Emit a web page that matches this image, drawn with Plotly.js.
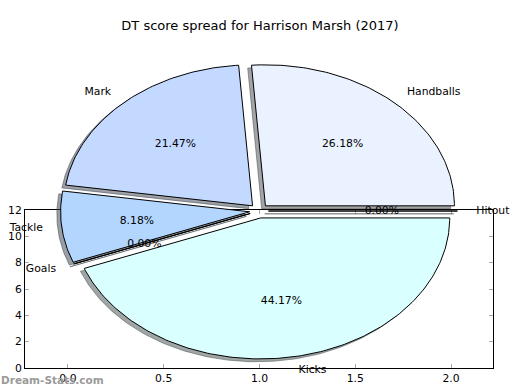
<!DOCTYPE html>
<html>
<head>
<meta charset="utf-8">
<script src="https://cdn.plot.ly/plotly-3.0.1.min.js"></script>
<style>html,body{margin:0;padding:0;background:#fff}#chart{width:520px;height:390px}</style>
</head>
<body>
<div id="chart"></div>
<script>
// ---- data ----
const labels = ['Handballs', 'Mark', 'Tackle', 'Goals', 'Kicks', 'Hitout'];
const values = [128, 105, 40, 0, 216, 0];
const xTickVals = [0, 0.5, 1, 1.5, 2];
const xTickText = ['0.0', '0.5', '1.0', '1.5', '2.0'];
const yTickVals = [0, 2, 4, 6, 8, 10, 12];
const titleText = 'DT score spread for Harrison Marsh (2017)';
const watermark = 'Dream-Stats.com';

// ---- style ----
const colors = [[234, 242, 255], [196, 217, 255], [179, 214, 255], [200, 230, 255], [217, 255, 255], [225, 240, 255]];
const FONT = 'DejaVu Sans, sans-serif';
const explode = 0.05, shadowOff = -0.02, labelDist = 1.1, pctDist = 0.6;

const total = values.reduce((a, b) => a + b, 0);
const shadows = [], wedges = [];
const lab = {x: [], y: [], text: [], pos: []};
const pct = {x: [], y: [], text: []};
let theta = 0;
values.forEach((v, i) => {
  const t1 = theta, t2 = theta + 360 * v / total;
  theta = t2;
  const tm = (t1 + t2) / 2 * Math.PI / 180;
  const cx = explode * Math.cos(tm), cy = explode * Math.sin(tm);
  const xs = [cx], ys = [cy];
  const n = Math.max(1, Math.ceil(t2 - t1));
  for (let k = 0; k <= n; k++) {
    const a = (t1 + (t2 - t1) * k / n) * Math.PI / 180;
    xs.push(cx + Math.cos(a)); ys.push(cy + Math.sin(a));
  }
  xs.push(cx); ys.push(cy);
  const c = colors[i];
  const sc = 'rgba(' + c.map(u => Math.round(u * 0.3)).join(',') + ',0.5)';
  shadows.push({type: 'scatter', mode: 'lines', x: xs.map(u => u + shadowOff), y: ys.map(u => u + shadowOff),
    fill: 'toself', fillcolor: sc, line: {color: sc, width: 1}, xaxis: 'x2', yaxis: 'y2', hoverinfo: 'skip'});
  wedges.push({type: 'scatter', mode: 'lines', x: xs, y: ys, fill: 'toself',
    fillcolor: 'rgb(' + c.join(',') + ')', line: {color: '#000', width: 1}, xaxis: 'x2', yaxis: 'y2', hoverinfo: 'skip'});
  const lx = cx + labelDist * Math.cos(tm), ly = cy + labelDist * Math.sin(tm);
  lab.x.push(lx); lab.y.push(ly); lab.text.push(labels[i]);
  lab.pos.push(lx > 0 ? 'middle right' : 'middle left');
  pct.x.push(cx + pctDist * Math.cos(tm)); pct.y.push(cy + pctDist * Math.sin(tm));
  pct.text.push((100 * v / total).toFixed(2) + '%');
});

const textFont = {family: FONT, size: 10.8, color: '#000'};
const traces = [
  {type: 'scatter', mode: 'markers', x: [], y: [], xaxis: 'x', yaxis: 'y', hoverinfo: 'skip'}
].concat(shadows, wedges, [
  {type: 'scatter', mode: 'text', x: lab.x, y: lab.y, text: lab.text, textposition: lab.pos,
    textfont: textFont, cliponaxis: false, hoverinfo: 'skip', xaxis: 'x3', yaxis: 'y3'},
  {type: 'scatter', mode: 'text', x: pct.x, y: pct.y, text: pct.text, textposition: 'middle center',
    textfont: textFont, cliponaxis: false, hoverinfo: 'skip', xaxis: 'x3', yaxis: 'y3'}
]);

// pie space: unit ellipse centred at pixel (259,211), rx=189 px, ry=141 px
const pxr = [-259 / 189, 261 / 189], pyr = [-179 / 141, 211 / 141];
const hidden = {visible: false, fixedrange: true, domain: [0, 1]};
const layout = {
  width: 520, height: 390,
  margin: {l: 0, r: 0, t: 0, b: 0},
  paper_bgcolor: '#fff', plot_bgcolor: 'rgba(0,0,0,0)',
  showlegend: false,
  font: {family: FONT, size: 10.8, color: '#000'},
  title: {text: titleText, x: 0.5, xanchor: 'center', y: 1 - 25 / 390, yanchor: 'middle',
    font: {family: FONT, size: 13, color: '#000'}},
  xaxis2: Object.assign({}, hidden, {range: pxr, anchor: 'y2'}),
  yaxis2: Object.assign({}, hidden, {range: pyr, anchor: 'x2'}),
  xaxis3: Object.assign({}, hidden, {range: pxr, anchor: 'y3'}),
  yaxis3: Object.assign({}, hidden, {range: pyr, anchor: 'x3'}),
  xaxis: {domain: [25 / 520, 493 / 520], range: [-0.224, 2.219], anchor: 'y', fixedrange: true,
    showline: true, linecolor: '#000', linewidth: 1, mirror: 'ticks', ticks: 'inside', ticklen: 4,
    tickcolor: '#aaa', tickvals: xTickVals, ticktext: xTickText, showgrid: false, zeroline: false,
    tickfont: {family: FONT, size: 10.8, color: '#000'}},
  yaxis: {domain: [22 / 390, 180 / 390], range: [0, 12], anchor: 'x', fixedrange: true,
    showline: true, linecolor: '#000', linewidth: 1, mirror: 'ticks', ticks: 'inside', ticklen: 4,
    tickcolor: '#aaa', tickvals: yTickVals, showgrid: false, zeroline: false,
    tickfont: {family: FONT, size: 10.8, color: '#000'}},
  annotations: [{text: watermark, xref: 'paper', yref: 'paper', x: 0, xanchor: 'left',
    y: 1 - 380 / 390, yanchor: 'middle', showarrow: false, borderpad: 0,
    font: {family: FONT, size: 10.5, color: '#9a9a9a', weight: 'bold'}}]
};

Plotly.newPlot('chart', traces, layout, {staticPlot: true, displayModeBar: false});
</script>
</body>
</html>
